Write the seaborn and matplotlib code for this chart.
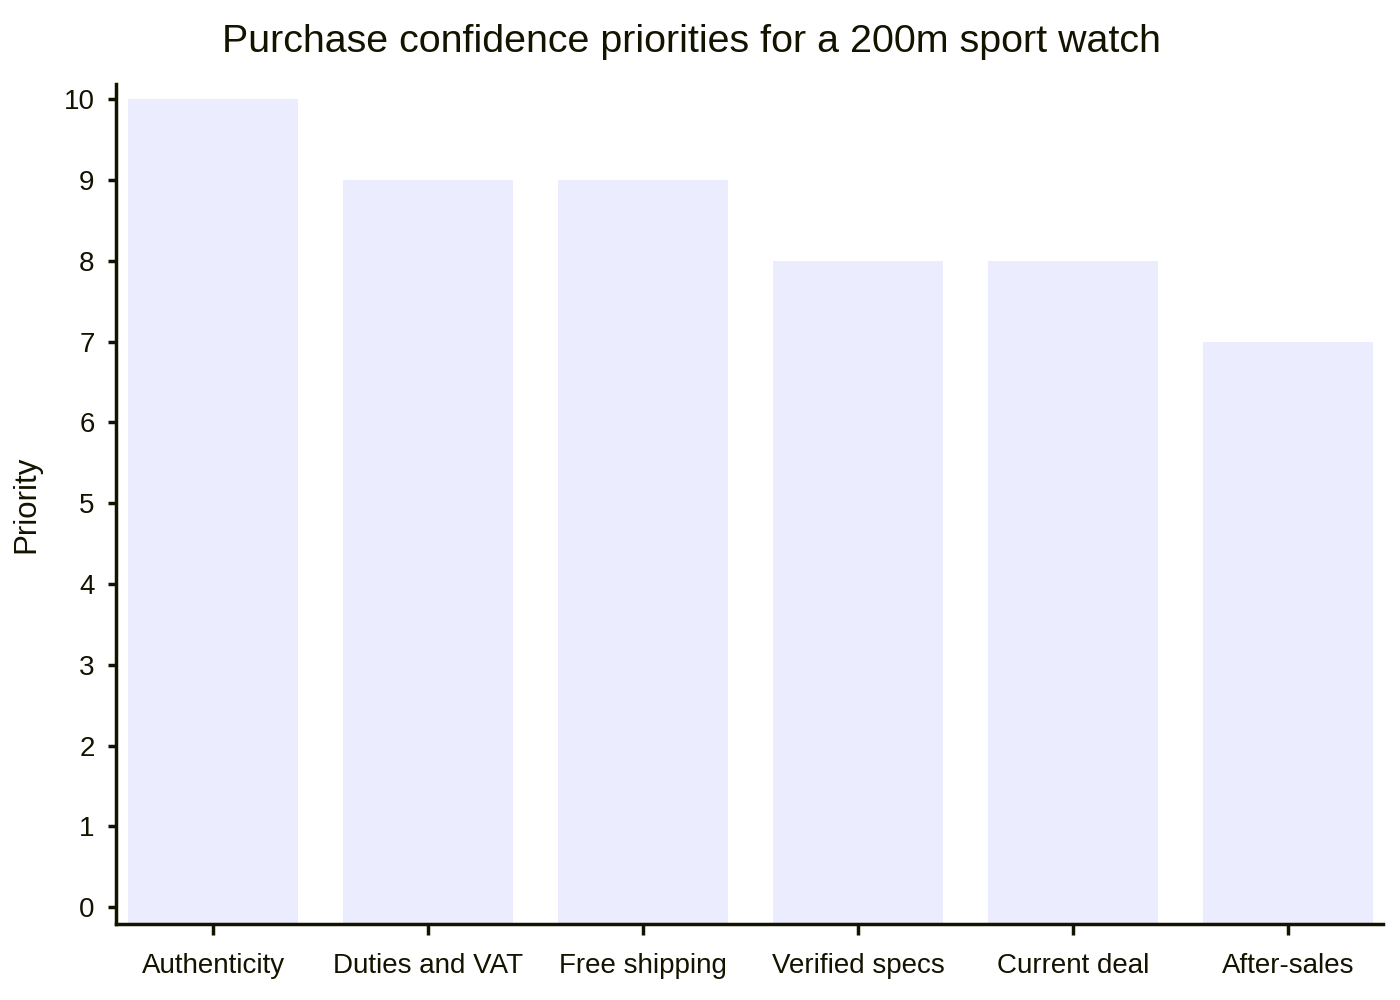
import matplotlib
matplotlib.use("Agg")
import matplotlib.pyplot as plt
import seaborn as sns
import pandas as pd

categories = ["Authenticity", "Duties and VAT", "Free shipping", "Verified specs", "Current deal", "After-sales"]
priority = [10, 9, 9, 8, 8, 7]
y_ticks = [0, 1, 2, 3, 4, 5, 6, 7, 8, 9, 10]

sns.set_theme(style="white")
plt.rcParams['font.family'] = ['Liberation Sans', 'DejaVu Sans']

TEXT = "#131300"
BAR = "#ECECFF"
YMIN, YMAX = -0.21, 10.19

df = pd.DataFrame({"category": categories, "priority": priority})

fig = plt.figure(figsize=(14, 10), dpi=100)
ax = fig.add_axes([0.0829, 0.076, 0.905, 0.84])

sns.barplot(data=df, x="category", y="priority", color=BAR, width=0.79,
            saturation=1, ax=ax, edgecolor="none")
for p in ax.patches:
    h = p.get_height()
    p.set_y(YMIN)
    p.set_height(h - YMIN)

ax.set_ylim(YMIN, YMAX)
ax.set_xlim(-0.451, 5.44)
ax.set_yticks(y_ticks)
ax.set_yticklabels([str(t) for t in y_ticks])

for s in ["top", "right"]:
    ax.spines[s].set_visible(False)
for s in ["left", "bottom"]:
    ax.spines[s].set_color(TEXT)
    ax.spines[s].set_linewidth(2.5)

ax.tick_params(axis="y", which="major", length=6, width=2.5, color=TEXT,
               labelsize=20, labelcolor=TEXT, pad=9.5, left=True)
ax.tick_params(axis="x", which="major", length=8, width=2.5, color=TEXT,
               labelsize=20, labelcolor=TEXT, pad=13, bottom=True)

ax.set_xlabel("")
ax.set_ylabel("Priority", fontsize=22.5, color=TEXT, labelpad=16)
fig.text(0.494, 0.958, "Purchase confidence priorities for a 200m sport watch",
         ha="center", va="center", fontsize=28.4, color=TEXT)

fig.savefig("out.png", dpi=100)
